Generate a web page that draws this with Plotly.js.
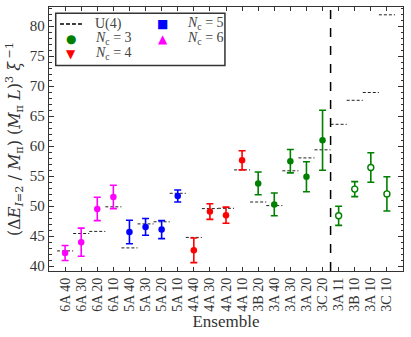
<!DOCTYPE html>
<html>
<head>
<meta charset="utf-8">
<script src="https://cdn.plot.ly/plotly-3.0.1.min.js"></script>
<style>
  html, body { margin: 0; padding: 0; background: #fff; }
  #chart { width: 411px; height: 337px; }
</style>
</head>
<body>
<div id="chart"></div>
<script>
// ensembles in plotting order
const ensembles = ['6A 40', '6A 30', '6A 20', '6A 10', '5A 40', '5A 30', '5A 20', '5A 10',
  '4A 40', '4A 30', '4A 20', '4A 10', '3B 20', '3A 40', '3A 30', '3A 20', '3C 20',
  '3A 11', '3B 10', '3A 10', '3C 10'];
const nc = [6, 6, 6, 6, 5, 5, 5, 5, 4, 4, 4, 4, 3, 3, 3, 3, 3, 3, 3, 3, 3];
const value = [42.2, 44.0, 49.55, 51.55, 45.7, 46.55, 46.1, 51.7,
  42.65, 49.1, 48.5, 57.65, 53.8, 50.3, 57.5, 54.9, 61.0,
  48.4, 52.85, 56.45, 52.05];
const err = [1.25, 2.35, 1.95, 1.95, 1.95, 1.4, 1.5, 1.0,
  2.05, 1.3, 1.35, 1.6, 1.9, 1.9, 1.95, 2.5, 5.0,
  1.6, 1.25, 2.45, 2.85];
const u4 = [42.55, 45.45, 45.8, 49.9, 43.05, 47.05, 47.4, 52.15,
  44.8, 49.6, 49.65, 56.05, 50.7, 50.1, 55.9, 58.05, 59.4,
  63.65, 67.65, 68.95, 81.9];
const openPoints = ['3A 11', '3B 10', '3A 10', '3C 10'];

const colors = {3: '#008000', 4: '#ff0000', 5: '#0000ff', 6: '#ff00ff'};
const legendGlyph = {3: '●', 4: '▼', 5: '■', 6: '▲'};
const FONT = 'Liberation Serif, serif';

var data = [];

// U(4) dashes, one per ensemble
var dx = [], dy = [];
for (var i = 0; i < u4.length; i++) {
  dx.push(i - 0.5, i + 0.5, null);
  dy.push(u4[i], u4[i], null);
}
data.push({
  x: dx, y: dy, mode: 'lines', type: 'scatter',
  line: {color: '#222', width: 1, dash: '3px,2px'},
  hoverinfo: 'skip'
});

function addPoints(filterFn, col, open) {
  var x = [], y = [], e = [];
  for (var i = 0; i < value.length; i++) {
    if (filterFn(i)) { x.push(i); y.push(value[i]); e.push(err[i]); }
  }
  data.push({
    x: x, y: y, type: 'scatter', mode: 'markers',
    error_y: {type: 'data', array: e, visible: true, color: col, thickness: 1.6, width: 3.5},
    marker: {symbol: 'circle', size: open ? 6 : 6.5,
             color: open ? '#fff' : col,
             line: {color: col, width: open ? 1.4 : 0}}
  });
}
[6, 5, 4, 3].forEach(function (n) {
  addPoints(function (i) { return nc[i] === n && openPoints.indexOf(ensembles[i]) < 0; }, colors[n], false);
});
addPoints(function (i) { return openPoints.indexOf(ensembles[i]) >= 0; }, colors[3], true);

var tickv = ensembles.map(function (_, i) { return i; });

// legend drawn by hand (two columns, matplotlib style)
var rowY = [0.936, 0.879, 0.822];
var annotations = [
  {text: 'U(4)', x: 0.124, y: rowY[0]}
];
var legendItems = [[3, 0.0613, 0.124, rowY[1]], [4, 0.0613, 0.124, rowY[2]],
                   [5, 0.322, 0.384, rowY[0]], [6, 0.322, 0.384, rowY[1]]];
legendItems.forEach(function (it) {
  annotations.push({text: legendGlyph[it[0]], x: it[1], y: it[3], xanchor: 'center',
    font: {family: 'DejaVu Sans', size: 12, color: colors[it[0]]}});
  annotations.push({text: '<i>N</i><sub>c</sub> = ' + it[0], x: it[2], y: it[3]});
});
annotations.forEach(function (a) {
  a.xref = 'paper'; a.yref = 'paper'; a.showarrow = false;
  a.yanchor = 'middle';
  if (!a.xanchor) a.xanchor = 'left';
  if (!a.font) a.font = {family: FONT, size: 14, color: '#444'};
});

var layout = {
  width: 411, height: 337,
  margin: {l: 49, r: 8, t: 7, b: 66},
  paper_bgcolor: '#fff', plot_bgcolor: '#fff',
  font: {family: FONT, color: '#222', size: 14},
  showlegend: false,
  xaxis: {
    range: [-1, 21], tickmode: 'array', tickvals: tickv, ticktext: ensembles,
    tickangle: -90, ticks: 'inside', ticklen: 4, tickcolor: '#333',
    showline: true, linecolor: '#333', linewidth: 1.2, mirror: 'ticks',
    showgrid: false, zeroline: false,
    tickfont: {family: FONT, size: 14, color: '#333'},
    title: {text: 'Ensemble', font: {family: FONT, size: 17, color: '#333'}, standoff: 4}
  },
  yaxis: {
    range: [39.2, 83.2], tickmode: 'linear', tick0: 40, dtick: 5,
    ticks: 'inside', ticklen: 5, tickcolor: '#333',
    minor: {dtick: 1, ticks: 'inside', ticklen: 2.5, tickcolor: '#333'},
    showline: true, linecolor: '#333', linewidth: 1.2, mirror: 'ticks',
    showgrid: false, zeroline: false,
    tickfont: {family: FONT, size: 15, color: '#333'},
    title: {text: '(Δ<i>E</i><sub><i>I</i>=2</sub> / <i>M</i><sub>π</sub>) (<i>M</i><sub>π</sub> <i>L</i>)<sup>3</sup> <i>ξ</i><sup> −1</sup>',
            font: {family: 'DejaVu Serif, serif', size: 16, color: '#333'}, standoff: 5}
  },
  annotations: annotations,
  shapes: [
    {type: 'line', xref: 'x', yref: 'paper', x0: 16.5, x1: 16.5, y0: 0, y1: 1,
     line: {color: '#000', width: 1.5, dash: 'dash'}},
    {type: 'rect', xref: 'paper', yref: 'paper', x0: 0.019, x1: 0.497, y0: 0.778, y1: 0.976,
     line: {color: '#333', width: 1.5}, fillcolor: 'rgba(255,255,255,0)'},
    {type: 'line', xref: 'paper', yref: 'paper', x0: 0.031, x1: 0.093, y0: rowY[0], y1: rowY[0],
     line: {color: '#000', width: 1.5, dash: '4px,2px'}}
  ]
};

Plotly.newPlot('chart', data, layout, {staticPlot: true});
</script>
</body>
</html>
